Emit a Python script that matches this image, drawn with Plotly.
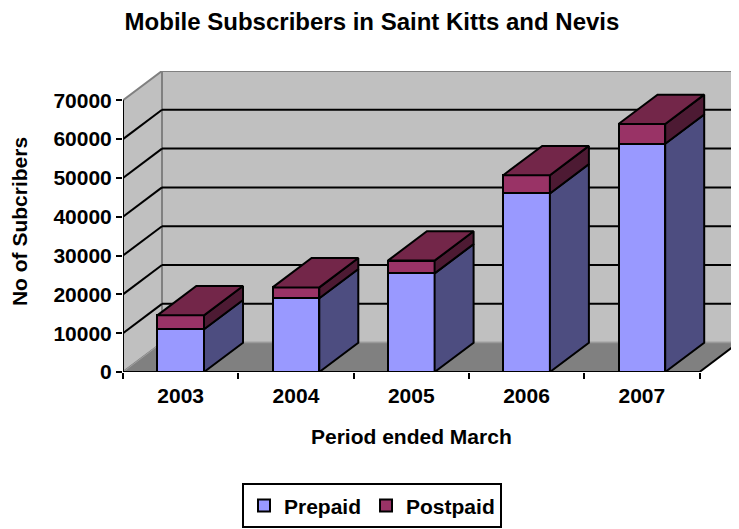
import plotly.graph_objects as go

# ---------------- data ----------------
years = ["2003", "2004", "2005", "2006", "2007"]
prepaid = [11000, 19000, 25400, 46000, 58800]
postpaid = [3600, 2800, 3300, 4700, 5100]
y_ticks = [0, 10000, 20000, 30000, 40000, 50000, 60000, 70000]
y_ticktext = [str(v) for v in y_ticks]

# ---------------- geometry / style constants ----------------
OFF = 8                    # page body margin added by the browser
W, H = 739 - OFF, 529 - OFF
PLOT_L, PLOT_R, PLOT_T, PLOT_B = 123 - OFF, 738 - OFF, 71 - OFF, 379 - OFF
CAT_PX = 115.3            # pixels per category
VAL_PX = 39.72 / 10000    # pixels per value unit
DEPTH_XPX, DEPTH_YPX = 39, 30
BAR_W = 0.405

FONT = "Liberation Sans, Arial, sans-serif"
C_PRE, C_PRE_SIDE = "#9999FF", "#4D4D80"
C_POST, C_POST_TOP, C_POST_SIDE = "#993366", "#732649", "#4D1A33"
C_WALL, C_FLOOR, C_EDGE = "#C0C0C0", "#808080", "#808080"

x_min = -0.5
x_max = x_min + (PLOT_R - PLOT_L) / CAT_PX
y_max = (PLOT_B - PLOT_T) / VAL_PX
dx = DEPTH_XPX / CAT_PX
dy = DEPTH_YPX / VAL_PX
n = len(years)
x_front_end = n - 0.5
ymax_tick = y_ticks[-1]
PH = PLOT_B - PLOT_T
PW = PLOT_R - PLOT_L

xs = list(range(n))
totals = [a + b for a, b in zip(prepaid, postpaid)]

fig = go.Figure()

# front faces as stacked bars
fig.add_trace(go.Bar(x=xs, y=prepaid, width=BAR_W, name="Prepaid",
                     marker=dict(color=C_PRE, line=dict(color="black", width=2)),
                     hoverinfo="skip"))
fig.add_trace(go.Bar(x=xs, y=postpaid, width=BAR_W, name="Postpaid",
                     marker=dict(color=C_POST, line=dict(color="black", width=2)),
                     hoverinfo="skip"))


def poly_trace(polys, color):
    px, py = [], []
    for p in polys:
        for (a, b) in p:
            px.append(a)
            py.append(b)
        px.append(p[0][0])
        py.append(p[0][1])
        px.append(None)
        py.append(None)
    return go.Scatter(x=px, y=py, mode="lines", fill="toself", fillcolor=color,
                      line=dict(color="black", width=2), showlegend=False,
                      hoverinfo="skip")


pre_side, post_side, post_top = [], [], []
for i in xs:
    xl, xr = i - BAR_W / 2, i + BAR_W / 2
    p, t = prepaid[i], totals[i]
    pre_side.append([(xr, 0), (xr + dx, dy), (xr + dx, p + dy), (xr, p)])
    post_side.append([(xr, p), (xr + dx, p + dy), (xr + dx, t + dy), (xr, t)])
    post_top.append([(xl, t), (xr, t), (xr + dx, t + dy), (xl + dx, t + dy)])

fig.add_trace(poly_trace(pre_side, C_PRE_SIDE))
fig.add_trace(poly_trace(post_side, C_POST_SIDE))
fig.add_trace(poly_trace(post_top, C_POST_TOP))

# front floor edge on the tick-mark axis
fig.add_trace(go.Scatter(x=[x_min, x_front_end], y=[0, 0], xaxis="x2", mode="lines",
                         line=dict(color="black", width=2), showlegend=False,
                         hoverinfo="skip"))

shapes = []


def path(pts):
    return "M " + " L ".join(f"{a},{b}" for a, b in pts) + " Z"


# back wall
shapes.append(dict(type="path", xref="x", yref="y", layer="below",
                   path=path([(x_min + dx, dy), (x_front_end + dx, dy),
                              (x_front_end + dx, ymax_tick + dy), (x_min + dx, ymax_tick + dy)]),
                   fillcolor=C_WALL, line=dict(color=C_EDGE, width=2)))
# left wall
shapes.append(dict(type="path", xref="x", yref="y", layer="below",
                   path=path([(x_min, 0), (x_min, ymax_tick), (x_min + dx, ymax_tick + dy),
                              (x_min + dx, dy)]),
                   fillcolor=C_WALL, line=dict(color=C_EDGE, width=2)))
# floor
shapes.append(dict(type="path", xref="x", yref="y", layer="below",
                   path=path([(x_min, 0), (x_front_end, 0), (x_front_end + dx, dy),
                              (x_min + dx, dy)]),
                   fillcolor=C_FLOOR, line=dict(color="#A0A0A0", width=1)))
# gridlines on back wall and left wall
for v in y_ticks[1:-1]:
    shapes.append(dict(type="line", xref="x", yref="y", layer="below",
                       x0=x_min + dx, x1=x_front_end + dx, y0=v + dy, y1=v + dy,
                       line=dict(color="black", width=2)))
    shapes.append(dict(type="line", xref="x", yref="y", layer="below",
                       x0=x_min, x1=x_min + dx, y0=v, y1=v + dy,
                       line=dict(color="black", width=2)))
# axis lines (front left edge, floor right edge)
shapes.append(dict(type="line", xref="x", yref="y", layer="below",
                   x0=x_min, x1=x_min, y0=0, y1=ymax_tick, line=dict(color="black", width=2)))
shapes.append(dict(type="line", xref="x", yref="y", layer="below",
                   x0=x_front_end, x1=x_front_end + dx, y0=0, y1=dy,
                   line=dict(color="black", width=2)))

bold = dict(family=FONT, size=21, color="black", weight="bold")

fig.update_layout(
    width=W, height=H,
    margin=dict(l=PLOT_L, r=W - PLOT_R, t=PLOT_T, b=H - PLOT_B, pad=0),
    paper_bgcolor="white", plot_bgcolor="white",
    barmode="stack", bargap=0,
    shapes=shapes,
    title=dict(text="Mobile Subscribers in Saint Kitts and Nevis",
               font=dict(family=FONT, size=24, color="black", weight="bold"),
               x=(372 - OFF) / W, xref="container", xanchor="center",
               y=1 - (22 - OFF) / H, yref="container", yanchor="middle"),
    xaxis=dict(range=[x_min, x_max], tickvals=xs, ticktext=years,
               ticks="outside", ticklen=5, tickcolor="rgba(0,0,0,0)",
               tickfont=bold, showgrid=False, zeroline=False, showline=False),
    xaxis2=dict(range=[x_min, x_max], overlaying="x", anchor="y", side="bottom",
                tickvals=[i - 0.5 for i in range(n + 1)], ticks="outside", ticklen=6,
                tickwidth=2, tickcolor="black", showticklabels=False,
                showgrid=False, zeroline=False, showline=False),
    yaxis=dict(range=[0, y_max], tickvals=y_ticks, ticktext=y_ticktext,
               ticks="outside", ticklen=6,
               tickwidth=2, tickcolor="black", tickfont=bold,
               showgrid=False, zeroline=False, showline=False,
               title=dict(text="No of Subcribers", font=bold, standoff=24)),
    legend=dict(orientation="h", traceorder="normal",
                x=(242 - OFF - PLOT_L) / PW, xanchor="left",
                y=-(493 - OFF - PLOT_B) / PH, yanchor="top",
                font=bold, bordercolor="black", borderwidth=2, bgcolor="white"),
    annotations=[dict(text="Period ended March", xref="x", x=(n - 1) / 2,
                      yref="paper", y=-(445 - OFF - PLOT_B) / PH,
                      yanchor="middle", xanchor="center", showarrow=False, font=bold)],
)

fig.write_html("out.html")
